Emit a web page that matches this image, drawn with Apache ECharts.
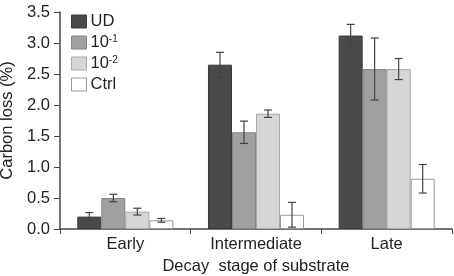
<!DOCTYPE html>
<html>
<head>
<meta charset="utf-8">
<script src="https://cdn.jsdelivr.net/npm/echarts@6/dist/echarts.min.js"></script>
<style>html,body{margin:0;padding:0;background:#fff}#c{width:454px;height:276px}</style>
</head>
<body>
<div id="c"></div>
<script>
var categories = ['Early', 'Intermediate', 'Late'];
var seriesNames = ['UD', '10{sup|-1}', '10{sup|-2}', 'Ctrl'];
var legendKeys = ['UD', '10-1', '10-2', 'Ctrl'];
var udValues = [0.20, 2.65, 3.12];
var udErrors = [0.065, 0.20, 0.18];
var t1Values = [0.50, 1.56, 2.58];
var t1Errors = [0.06, 0.18, 0.50];
var t2Values = [0.28, 1.86, 2.58];
var t2Errors = [0.055, 0.06, 0.17];
var ctrlValues = [0.14, 0.23, 0.81];
var ctrlErrors = [0.03, 0.20, 0.23];
var yTicks = ['0.0','0.5','1.0','1.5','2.0','2.5','3.0','3.5'];

var fills = ['#4a4a4a', '#a0a0a0', '#d6d6d6', '#ffffff'];
var borders = ['#3a3a3a', '#858585', '#a8a8a8', '#9a9a9a'];
var allValues = [udValues, t1Values, t2Values, ctrlValues];
var allErrors = [udErrors, t1Errors, t2Errors, ctrlErrors];
var catGap = 0.265;
var font = 'Liberation Sans, Arial, sans-serif';
var fs = 16.5;

var series = [];
legendKeys.forEach(function (k, i) {
  series.push({
    name: k, type: 'bar', data: allValues[i],
    barGap: '0%', barCategoryGap: (catGap * 100) + '%',
    itemStyle: { color: fills[i], borderColor: borders[i], borderWidth: 1 },
    emphasis: { disabled: true }, z: 2
  });
});
legendKeys.forEach(function (k, i) {
  var data = allValues[i].map(function (v, j) {
    return [j, v - allErrors[i][j], v + allErrors[i][j]];
  });
  series.push({
    type: 'custom', name: k + '_err', data: data, z: 5, silent: true,
    renderItem: function (params, api) {
      var ci = api.value(0);
      var lo = api.coord([ci, api.value(1)]);
      var hi = api.coord([ci, api.value(2)]);
      var cw = api.size([1, 0])[0];
      var bw = cw * (1 - catGap) / 4;
      var x = lo[0] - 2 * bw + bw * (i + 0.5);
      var cap = 4;
      var st = { stroke: '#444', lineWidth: 1.2, fill: null };
      return { type: 'group', children: [
        { type: 'line', shape: { x1: x, y1: lo[1], x2: x, y2: hi[1] }, style: st },
        { type: 'line', shape: { x1: x - cap, y1: lo[1], x2: x + cap, y2: lo[1] }, style: st },
        { type: 'line', shape: { x1: x - cap, y1: hi[1], x2: x + cap, y2: hi[1] }, style: st }
      ]};
    }
  });
});

var chart = echarts.init(document.getElementById('c'), null, { renderer: 'canvas' });
chart.setOption({
  animation: false,
  backgroundColor: '#fff',
  grid: { left: 60, right: 2, top: 12, bottom: 47, containLabel: false, outerBoundsMode: 'none' },
  legend: {
    data: legendKeys.map(function (k, i) { return { name: k, itemStyle: { color: fills[i], borderColor: borders[i], borderWidth: 1 } }; }),
    orient: 'vertical', left: 66, top: 8, itemWidth: 15, itemHeight: 13, itemGap: 4,
    icon: 'rect',
    formatter: function (n) { return seriesNames[legendKeys.indexOf(n)]; },
    textStyle: { fontFamily: font, fontSize: fs, lineHeight: 16.5, color: '#222', padding: [0, 0, 0, -1],
      rich: { sup: { fontFamily: font, fontSize: 10, color: '#222', verticalAlign: 'top', padding: [0, 0, 8, 0] } } },
    selectedMode: false
  },
  xAxis: {
    type: 'category', data: categories,
    name: 'Decay  stage of substrate', nameLocation: 'middle', nameGap: 28,
    nameTextStyle: { fontFamily: font, fontSize: fs, color: '#222' },
    axisLine: { lineStyle: { color: '#444', width: 1.5 } },
    axisTick: { show: true, length: 5, lineStyle: { color: '#444' } },
    axisLabel: { fontFamily: font, fontSize: fs, color: '#222', margin: 7 }
  },
  yAxis: {
    type: 'value', min: 0, max: 3.5, interval: 0.5,
    name: 'Carbon loss (%)', nameLocation: 'middle', nameGap: 40,
    nameTextStyle: { fontFamily: font, fontSize: fs, color: '#222' },
    axisLine: { show: true, lineStyle: { color: '#444', width: 1.5 } },
    axisTick: { show: true, length: 6, lineStyle: { color: '#444' } },
    splitLine: { show: false },
    axisLabel: { fontFamily: font, fontSize: fs, color: '#222', margin: 10,
      formatter: function (v) { return yTicks[Math.round(v / 0.5)]; } }
  },
  series: series
});
</script>
</body>
</html>
